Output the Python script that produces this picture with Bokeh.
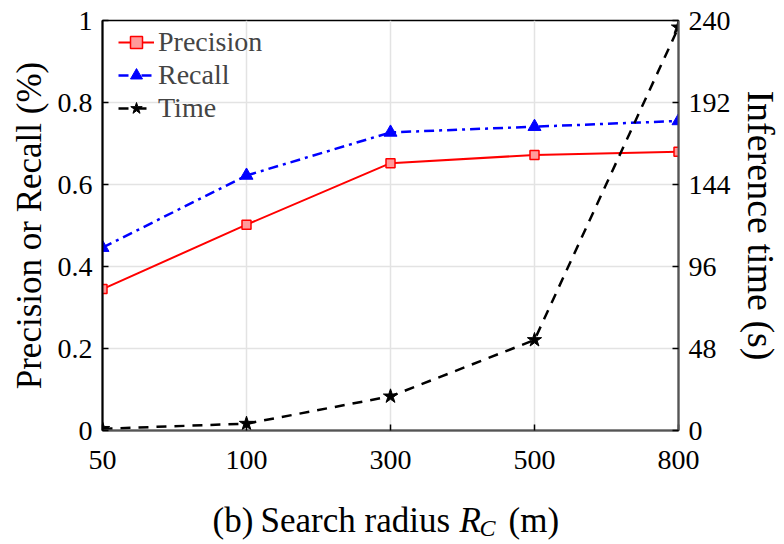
from bokeh.plotting import figure
from bokeh.layouts import column
from bokeh.models import Range1d, LinearAxis, FixedTicker, Legend, LegendItem
from bokeh.core.properties import value
from bokeh.embed import file_html
from bokeh.resources import INLINE

# ---- data ----
radius_labels = ["50", "100", "300", "500", "800"]
precision = [0.345, 0.502, 0.652, 0.672, 0.680]
recall = [0.446, 0.622, 0.727, 0.741, 0.755]
time_s = [1, 4, 20, 53, 236]
left_ticks = [0, 0.2, 0.4, 0.6, 0.8, 1]
left_tick_labels = ["0", "0.2", "0.4", "0.6", "0.8", "1"]
right_ticks = [0, 48, 96, 144, 192, 240]

xs = list(range(len(radius_labels)))
FONT = "Liberation Serif"

p = figure(width=784, height=486, output_backend="svg", toolbar_location=None,
           x_range=Range1d(0, len(radius_labels) - 1), y_range=Range1d(0, 1),
           min_border_left=102, min_border_right=104, min_border_top=20, min_border_bottom=56)
p.frame_align = False
p.extra_y_ranges = {"time": Range1d(0, 240)}

p.outline_line_color = "black"
p.outline_line_width = 1.5

# axes
p.xaxis.ticker = FixedTicker(ticks=xs)
p.xaxis.major_label_overrides = {i: l for i, l in enumerate(radius_labels)}
p.yaxis.ticker = FixedTicker(ticks=left_ticks)
p.yaxis.major_label_overrides = {t: l for t, l in zip(left_ticks, left_tick_labels)}
p.yaxis.axis_label = "Precision or Recall (%)"

raxis = LinearAxis(y_range_name="time", ticker=FixedTicker(ticks=right_ticks),
                   axis_label="Inference time (s)")
p.add_layout(raxis, "right")

for ax in [p.xaxis[0], p.yaxis[0], raxis]:
    ax.major_label_text_font = FONT
    ax.major_label_text_font_size = "28px"
    ax.major_label_text_color = "black"
    ax.axis_label_text_font = FONT
    ax.axis_label_text_font_size = "35px"
    ax.axis_label_text_font_style = "normal"
    ax.axis_label_text_color = "black"
    ax.major_tick_in = 6
    ax.major_tick_out = 0
    ax.minor_tick_line_color = None
    ax.axis_line_width = 2
    ax.major_tick_line_width = 1.5
p.yaxis[0].axis_line_color = "black"
p.yaxis[0].major_label_standoff = 10
p.yaxis[0].axis_label_standoff = 6
p.xaxis[0].axis_line_color = "#555555"
p.xaxis[0].major_label_standoff = 20
raxis.axis_line_color = "#555555"
raxis.major_label_standoff = 10
raxis.axis_label_standoff = 6
raxis.axis_label_text_font_size = "38px"

p.xgrid.ticker = FixedTicker(ticks=xs)
p.ygrid.ticker = FixedTicker(ticks=left_ticks)
for g in [p.xgrid[0], p.ygrid[0]]:
    g.grid_line_color = "#e3e3e3"
    g.grid_line_width = 1.5

# series
l1 = p.line(xs, precision, line_color="red", line_width=2)
s1 = p.scatter(xs, precision, marker="square", size=9, line_color="red",
               fill_color="#ff9a9a", line_width=1.5)
l2 = p.line(xs, recall, line_color="blue", line_width=2.5, line_dash="10 5 3 5")
s2 = p.scatter(xs, recall, marker="triangle", size=13, line_color="blue", fill_color="blue")
l3 = p.line(xs, time_s, line_color="black", line_width=2.5, line_dash="10 8",
            y_range_name="time")
s3 = p.scatter(xs, time_s, marker="star", size=15, line_color="black", fill_color="black",
               y_range_name="time")

legend = Legend(items=[LegendItem(label="Precision", renderers=[l1, s1]),
                       LegendItem(label="Recall", renderers=[l2, s2]),
                       LegendItem(label="Time", renderers=[l3, s3])],
                location=(16, 306), padding=0, margin=0, spacing=1,
                label_text_font=FONT, label_text_font_size="28px",
                label_height=30, glyph_height=30, glyph_width=36, label_standoff=4,
                border_line_alpha=0, background_fill_alpha=0)
p.add_layout(legend)

# bottom caption strip: "(b)  Search radius R_C (m)"
cap_parts = ["(b)", "Search radius", "R", "C", "(m)"]
cap_x = [212, 260, 459, 479, 508]
cap_y = [24, 24, 24, 17, 24]
cap_size = ["35px", "35px", "35px", "24px", "35px"]
cap_style = ["normal", "normal", "italic", "italic", "normal"]

t = figure(width=784, height=58, output_backend="svg", toolbar_location=None,
           x_range=Range1d(0, 784), y_range=Range1d(0, 58),
           min_border=0, outline_line_color=None)
t.frame_align = False
t.axis.visible = False
t.grid.visible = False
for txt, x, y, sz, st in zip(cap_parts, cap_x, cap_y, cap_size, cap_style):
    t.text(x=[x], y=[y], text=[txt], text_font=value(FONT), text_font_size=sz,
           text_font_style=st, text_color="black", text_align="left",
           text_baseline="alphabetic")

layout = column(p, t, spacing=0)
open("out.html", "w").write(file_html(layout, INLINE))
